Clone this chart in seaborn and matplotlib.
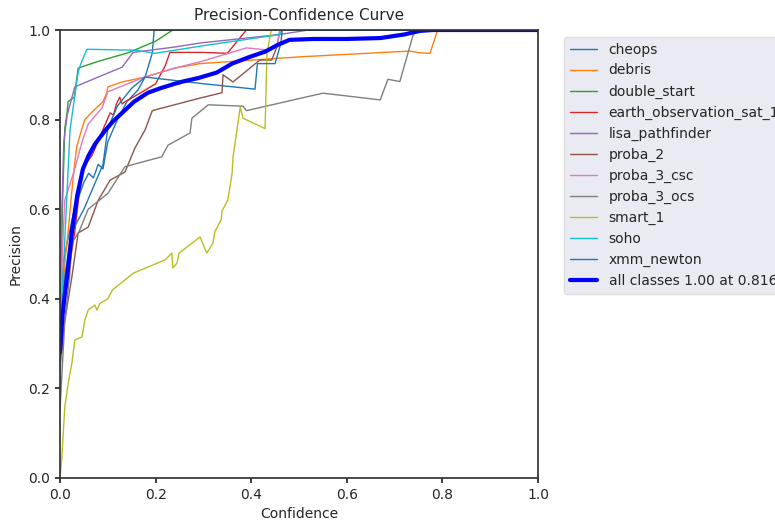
import matplotlib
matplotlib.use("Agg")
import matplotlib.pyplot as plt
import seaborn as sns

classes = ["cheops", "debris", "double_start", "earth_observation_sat_1",
           "lisa_pathfinder", "proba_2", "proba_3_csc", "proba_3_ocs",
           "smart_1", "soho", "xmm_newton"]

cheops_x = [0, 0.005, 0.01, 0.02, 0.03, 0.04, 0.05, 0.06, 0.07, 0.08, 0.09, 0.10, 0.12, 0.14, 0.163, 0.178, 0.193, 0.197, 1.0]
cheops_y = [0.30, 0.45, 0.50, 0.55, 0.60, 0.63, 0.66, 0.68, 0.67, 0.70, 0.69, 0.75, 0.80, 0.84, 0.866, 0.895, 0.948, 1.0, 1.0]

debris_x = [0, 0.005, 0.01, 0.017, 0.027, 0.035, 0.046, 0.052, 0.07, 0.09, 0.098, 0.10, 0.13, 0.178, 0.24, 0.293, 0.5, 0.732, 0.753, 0.774, 0.79, 1.0]
debris_y = [0.30, 0.40, 0.48, 0.55, 0.665, 0.74, 0.78, 0.80, 0.82, 0.84, 0.86, 0.873, 0.884, 0.895, 0.915, 0.925, 0.94, 0.953, 0.949, 0.948, 1.0, 1.0]

double_x = [0, 0.005, 0.01, 0.015, 0.017, 0.03, 0.038, 0.08, 0.142, 0.2, 0.236, 1.0]
double_y = [0.30, 0.60, 0.78, 0.817, 0.84, 0.85, 0.915, 0.93, 0.949, 0.975, 1.0, 1.0]

earth_x = [0, 0.005, 0.015, 0.031, 0.046, 0.067, 0.094, 0.105, 0.112, 0.118, 0.125, 0.13, 0.136, 0.145, 0.172, 0.2, 0.22, 0.23, 0.3, 0.35, 0.39, 1.0]
earth_y = [0.25, 0.35, 0.44, 0.55, 0.69, 0.72, 0.788, 0.815, 0.81, 0.835, 0.85, 0.835, 0.84, 0.845, 0.862, 0.88, 0.92, 0.95, 0.95, 0.948, 1.0, 1.0]

lisa_x = [0, 0.004, 0.008, 0.015, 0.031, 0.08, 0.13, 0.153, 0.24, 0.293, 0.46, 0.52, 1.0]
lisa_y = [0.30, 0.60, 0.75, 0.81, 0.873, 0.895, 0.917, 0.95, 0.962, 0.971, 0.99, 1.0, 1.0]

proba2_x = [0, 0.01, 0.025, 0.038, 0.059, 0.08, 0.105, 0.136, 0.157, 0.178, 0.193, 0.2, 0.293, 0.339, 0.341, 0.362, 0.418, 0.443, 0.454, 0.46, 1.0]
proba2_y = [0.25, 0.35, 0.45, 0.547, 0.56, 0.62, 0.665, 0.683, 0.737, 0.777, 0.82, 0.822, 0.848, 0.86, 0.90, 0.884, 0.933, 0.933, 0.963, 1.0, 1.0]

csc_x = [0, 0.005, 0.01, 0.031, 0.046, 0.059, 0.088, 0.10, 0.172, 0.24, 0.293, 0.39, 0.44, 0.455, 0.46, 1.0]
csc_y = [0.30, 0.50, 0.62, 0.69, 0.75, 0.79, 0.826, 0.862, 0.893, 0.915, 0.929, 0.96, 0.955, 0.97, 1.0, 1.0]

ocs_x = [0, 0.01, 0.02, 0.025, 0.04, 0.059, 0.10, 0.136, 0.213, 0.226, 0.272, 0.276, 0.31, 0.383, 0.39, 0.55, 0.67, 0.686, 0.711, 0.739, 0.742, 1.0]
ocs_y = [0.15, 0.35, 0.45, 0.525, 0.55, 0.60, 0.635, 0.695, 0.717, 0.743, 0.77, 0.803, 0.833, 0.83, 0.82, 0.859, 0.844, 0.89, 0.885, 0.99, 1.0, 1.0]

smart_x = [0, 0.004, 0.01, 0.017, 0.025, 0.031, 0.046, 0.052, 0.059, 0.073, 0.077, 0.084, 0.10, 0.11, 0.153, 0.22, 0.234, 0.236, 0.245, 0.249, 0.293, 0.307, 0.32, 0.324, 0.337, 0.339, 0.351, 0.36, 0.362, 0.377, 0.383, 0.429, 0.433, 0.442, 1.0]
smart_y = [0.0, 0.047, 0.158, 0.21, 0.257, 0.308, 0.315, 0.353, 0.375, 0.386, 0.375, 0.39, 0.40, 0.42, 0.457, 0.487, 0.502, 0.469, 0.48, 0.502, 0.538, 0.502, 0.524, 0.55, 0.576, 0.596, 0.62, 0.68, 0.716, 0.828, 0.803, 0.78, 0.948, 1.0, 1.0]

soho_x = [0, 0.006, 0.021, 0.038, 0.042, 0.056, 0.157, 0.199, 0.3, 0.46, 0.465, 1.0]
soho_y = [0.20, 0.44, 0.777, 0.906, 0.92, 0.957, 0.955, 0.948, 0.965, 0.99, 1.0, 1.0]

xmm_x = [0, 0.01, 0.02, 0.03, 0.05, 0.07, 0.09, 0.10, 0.12, 0.15, 0.178, 0.30, 0.408, 0.413, 0.45, 0.462, 0.465, 1.0]
xmm_y = [0.25, 0.45, 0.52, 0.56, 0.60, 0.65, 0.70, 0.78, 0.83, 0.87, 0.895, 0.88, 0.868, 0.925, 0.925, 0.97, 1.0, 1.0]

all_x = [0, 0.005, 0.01, 0.015, 0.025, 0.036, 0.048, 0.06, 0.073, 0.094, 0.11, 0.13, 0.155, 0.184, 0.21, 0.24, 0.257, 0.29, 0.328, 0.36, 0.397, 0.43, 0.454, 0.48, 0.53, 0.6, 0.67, 0.72, 0.753, 0.78, 0.8, 1.0]
all_y = [0.28, 0.36, 0.41, 0.45, 0.55, 0.63, 0.69, 0.72, 0.745, 0.775, 0.795, 0.815, 0.84, 0.86, 0.87, 0.88, 0.885, 0.893, 0.905, 0.925, 0.94, 0.952, 0.966, 0.978, 0.98, 0.98, 0.982, 0.99, 0.998, 1.0, 1.0, 1.0]
all_label = "all classes 1.00 at 0.816"

series = [(cheops_x, cheops_y), (debris_x, debris_y), (double_x, double_y),
          (earth_x, earth_y), (lisa_x, lisa_y), (proba2_x, proba2_y),
          (csc_x, csc_y), (ocs_x, ocs_y), (smart_x, smart_y),
          (soho_x, soho_y), (xmm_x, xmm_y)]

sns.set_theme(style="ticks", rc={
    "xtick.major.size": 3.5, "ytick.major.size": 3.5,
    "xtick.major.pad": 3.5, "ytick.major.pad": 3.5,
    "axes.labelpad": 4.0,
})
plt.rcParams['font.family'] = ['DejaVu Sans']

fig = plt.figure(figsize=(7.75, 5.2), dpi=100)
ax = fig.add_axes([0.0774, 0.0808, 0.6168, 0.8615])

tab10 = plt.get_cmap("tab10").colors
for i, (name, (xs, ys)) in enumerate(zip(classes, series)):
    sns.lineplot(x=xs, y=ys, ax=ax, color=tab10[i % 10], linewidth=1,
                 label=name, sort=False, estimator=None)

sns.lineplot(x=all_x, y=all_y, ax=ax, color="blue", linewidth=3,
             label=all_label, sort=False, estimator=None)

ax.set_xlim(0, 1)
ax.set_ylim(0, 1)
ax.set_xlabel("Confidence", fontsize=10)
ax.set_ylabel("Precision", fontsize=10)
ax.set_title("Precision-Confidence Curve", fontsize=11, pad=7)
ax.tick_params(labelsize=10)
for s in ax.spines.values():
    s.set_visible(True)
    s.set_color("#333333")

leg = ax.legend(bbox_to_anchor=(1.04, 1), loc="upper left", fontsize=10,
                frameon=True, facecolor="#EAEAF2", edgecolor="#DDDDDD")
leg.get_frame().set_alpha(1)

fig.savefig("out.png", dpi=100)
